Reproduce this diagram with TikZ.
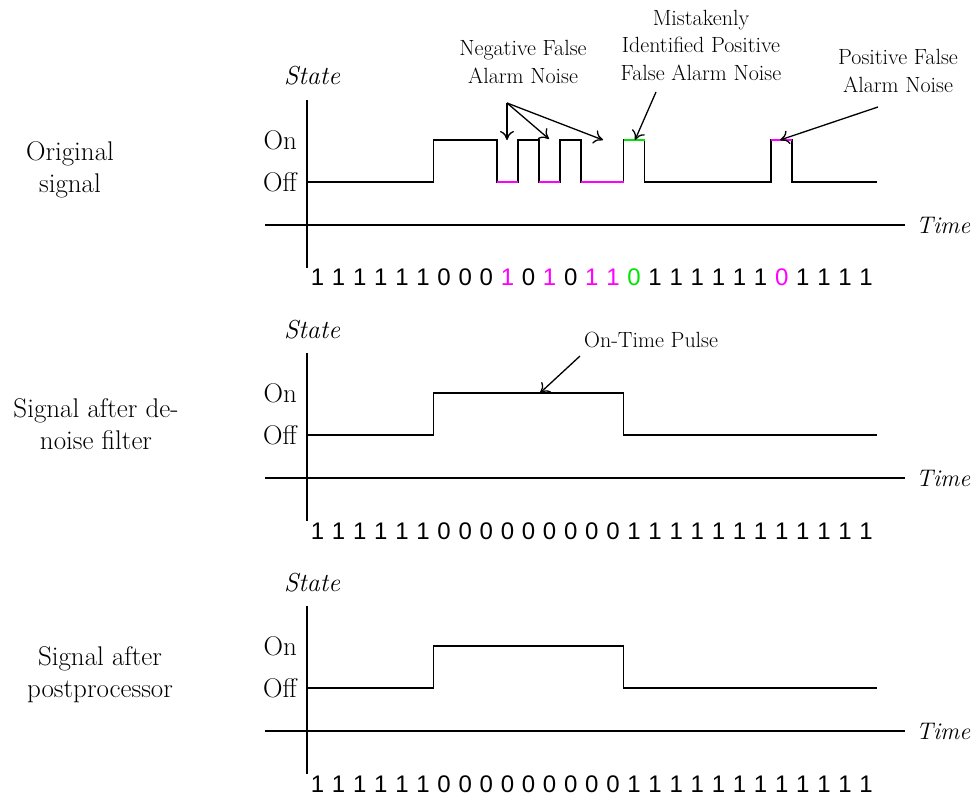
\documentclass[tikz,border=0pt]{standalone}
\usepackage{fontspec}
\newfontfamily\bitfont{Liberation Sans}
\newcommand\serfont{\rmfamily}
\usetikzlibrary{arrows.meta}
\definecolor{mag}{RGB}{255,0,255}
\definecolor{grn}{RGB}{0,230,0}
\begin{document}
\begin{tikzpicture}[x=1pt,y=-1pt,
  sig/.style={line width=1.7pt,black},
  axis/.style={line width=1.7pt,black},
  noise/.style={line width=2.8pt},
  note/.style={font=\serfont\fontsize{22}{27.5}\selectfont,align=center,inner sep=0pt},
  side/.style={font=\serfont\fontsize{27}{32}\selectfont,align=center,inner sep=0pt},
  lvl/.style={font=\serfont\fontsize{27}{30}\selectfont,inner sep=0pt,anchor=east},
  axlab/.style={font=\serfont\fontsize{26}{28}\selectfont\itshape,inner sep=0pt},
  timelab/.style={font=\serfont\fontsize{24}{28}\selectfont\itshape,inner sep=0pt,anchor=west},
  bit/.style={font=\bitfont\fontsize{24}{28}\selectfont,inner sep=0pt,anchor=base},
  pointer/.style={line width=1.3pt,-{To[length=9pt,width=14pt]}}]
\useasboundingbox (0,0) rectangle (972,800);
\def\w{21.1}
% ---------------- Panel 1 ----------------
\node[side] (lab1) at (70,170) {Original\\signal};
\node[axlab] (state1) at (312,76) {State};
\node[timelab] (time1) at (916,225) {Time};
\node[lvl] (on1) at (297,140) {On};
\node[lvl] (off1) at (297,182) {Off};
\coordinate (va1t) at (307,100); \coordinate (va1b) at (307,268);
\coordinate (ha1l) at (265,225); \coordinate (ha1r) at (905,225);
\draw[axis] (va1t) -- (va1b);
\draw[axis] (ha1l) -- (ha1r);
\draw[sig] (307,182) -- (307+6*\w,182) -- (307+6*\w,140) -- (307+9*\w,140)
  -- (307+9*\w,182) -- (307+10*\w,182) -- (307+10*\w,140) -- (307+11*\w,140)
  -- (307+11*\w,182) -- (307+12*\w,182) -- (307+12*\w,140) -- (307+13*\w,140)
  -- (307+13*\w,182) -- (307+15*\w,182) -- (307+15*\w,140) -- (307+16*\w,140)
  -- (307+16*\w,182) -- (307+22*\w,182) -- (307+22*\w,140) -- (307+23*\w,140)
  -- (307+23*\w,182) -- (307+27*\w,182);
\draw[noise,mag] (307+9*\w,182) -- (307+10*\w,182);
\draw[noise,mag] (307+11*\w,182) -- (307+12*\w,182);
\draw[noise,mag] (307+13*\w,182) -- (307+15*\w,182);
\draw[noise,grn] (307+15*\w,140) -- (307+16*\w,140);
\draw[noise,mag] (307+22*\w,140) -- (307+23*\w,140);
\foreach \b/\c [count=\i from 0] in {1/black,1/black,1/black,1/black,1/black,1/black,0/black,0/black,0/black,1/mag,0/black,1/mag,0/black,1/mag,1/mag,0/grn,1/black,1/black,1/black,1/black,1/black,1/black,0/mag,1/black,1/black,1/black,1/black}{
  \node[bit,text=\c] (b1-\i) at (307+\w/2+\i*\w,285) {\b};
}
% annotations
\node[note] (neg) at (523,62) {Negative False\\Alarm Noise};
\coordinate (negsrc) at (507,103);
\coordinate (negt1) at (507,140);
\coordinate (negt2) at (549,139);
\coordinate (negt3) at (603,140);
\draw[pointer] (negsrc) -- (negt1);
\draw[pointer] (negsrc) -- (negt2);
\draw[pointer] (negsrc) -- (negt3);
\node[note] (mis) at (701,45) {Mistakenly\\Identified Positive\\False Alarm Noise};
\coordinate (missrc) at (656,92); \coordinate (mist) at (635,140);
\draw[pointer] (missrc) -- (mist);
\node[note] (pos) at (898,71) {Positive False\\Alarm Noise};
\coordinate (possrc) at (878,107); \coordinate (post) at (780,140);
\draw[pointer] (possrc) -- (post);
% ---------------- Panel 2 ----------------
\begin{scope}[shift={(0,253)}]
\node[side] (lab2) at (96,171) {Signal after de-\\noise filter};
\node[axlab] (state2) at (312,77) {State};
\node[timelab] (time2) at (916,225) {Time};
\node[lvl] (on2) at (297,140) {On};
\node[lvl] (off2) at (297,182) {Off};
\coordinate (va2t) at (307,100); \coordinate (va2b) at (307,268);
\coordinate (ha2l) at (265,225); \coordinate (ha2r) at (905,225);
\draw[axis] (va2t) -- (va2b);
\draw[axis] (ha2l) -- (ha2r);
\draw[sig] (307,182) -- (307+6*\w,182) -- (307+6*\w,140) -- (307+15*\w,140)
  -- (307+15*\w,182) -- (307+27*\w,182);
\foreach \b [count=\i from 0] in {1,1,1,1,1,1,0,0,0,0,0,0,0,0,0,1,1,1,1,1,1,1,1,1,1,1,1}{
  \node[bit] (b2-\i) at (307+\w/2+\i*\w,286) {\b};
}
\node[note,anchor=west] (otp) at (584,87) {On-Time Pulse};
\coordinate (otpsrc) at (580,103); \coordinate (otpt) at (540,140);
\draw[pointer] (otpsrc) -- (otpt);
\end{scope}
% ---------------- Panel 3 ----------------
\begin{scope}[shift={(0,506)}]
\node[side] (lab3) at (100,169) {Signal after\\postprocessor};
\node[axlab] (state3) at (312,77) {State};
\node[timelab] (time3) at (916,225) {Time};
\node[lvl] (on3) at (297,140) {On};
\node[lvl] (off3) at (297,182) {Off};
\coordinate (va3t) at (307,100); \coordinate (va3b) at (307,268);
\coordinate (ha3l) at (265,225); \coordinate (ha3r) at (905,225);
\draw[axis] (va3t) -- (va3b);
\draw[axis] (ha3l) -- (ha3r);
\draw[sig] (307,182) -- (307+6*\w,182) -- (307+6*\w,140) -- (307+15*\w,140)
  -- (307+15*\w,182) -- (307+27*\w,182);
\foreach \b [count=\i from 0] in {1,1,1,1,1,1,0,0,0,0,0,0,0,0,0,1,1,1,1,1,1,1,1,1,1,1,1}{
  \node[bit] (b3-\i) at (307+\w/2+\i*\w,286) {\b};
}
\end{scope}
\end{tikzpicture}
\end{document}
